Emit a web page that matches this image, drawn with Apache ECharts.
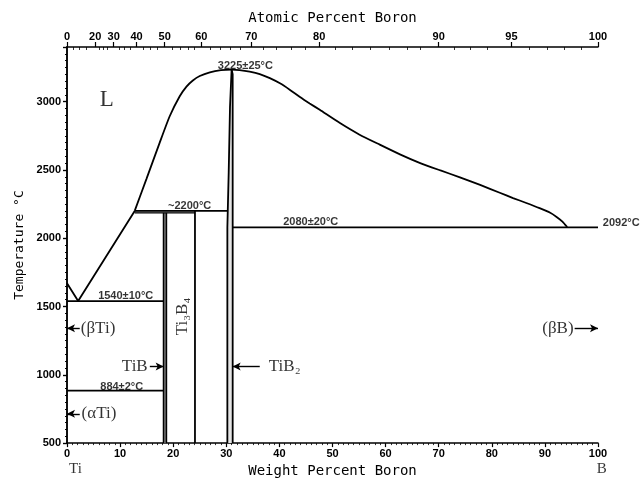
<!DOCTYPE html>
<html><head><meta charset="utf-8">
<script src="https://cdn.jsdelivr.net/npm/echarts@6/dist/echarts.min.js"></script>
<style>html,body{margin:0;padding:0;background:#fff}#c{width:641px;height:483px}</style>
</head><body><div id="c"></div>
<script>
// ---- data (weight % B, temperature °C) ----
const liquidusTiSide = [[0,1670],[2.1,1540],[12.75,2200]];
const liquidusMain = [[12.75,2200],[14.95,2433],[17.46,2700],[19.34,2893],[21.2,3038],[22.5,3110],[23.7,3155],[25.0,3188],[26.9,3215],[29.0,3230],[31.0,3234],[32.5,3231],[34.4,3220],[36.3,3202],[38.2,3172],[40.1,3134],[42.0,3086],[43.8,3036],[45.7,2987],[47.6,2940],[51.4,2843],[55.1,2758],[58.9,2685],[62.7,2614],[66.4,2552],[70.2,2498],[74.0,2446],[77.8,2390],[81.5,2333],[84.0,2294],[86.5,2258],[89.0,2220],[91.0,2186],[92.2,2156],[93.3,2122],[94.2,2082]];
const line1540 = [[0,1540],[18.2,1540]];
const line884 = [[0,884],[18.2,884]];
const line2200 = [[12.75,2200],[30.2,2200]];
const line2185 = [[12.75,2186],[24.1,2186]];
const line2080 = [[31.2,2080],[100,2080]];
const tibLeft = [[18.2,500],[18.2,2186]];
const tibRight = [[18.7,500],[18.7,2186]];
const ti3b4 = [[24.1,500],[24.1,2200]];
const tib2Left = [[30.2,500],[30.2,2080],[30.45,2480],[30.7,2964],[31.0,3234]];
const tib2Right = [[31.2,500],[31.2,3200],[31.0,3234]];
const weightTicks = [0,10,20,30,40,50,60,70,80,90,100];
const tempTicks = [500,1000,1500,2000,2500,3000];
// top axis: atomic-percent labels and where they sit on the weight-percent scale
const atomicLabels = ['0','20','30','40','50','60','70','80','90','95','100'];
const atomicAtWeight = [0,5.3,8.8,13.1,18.4,25.3,34.7,47.5,70.0,83.7,100];
const atomicMinorAtWeight = [1.2,2.4,3.6,6.0,6.8,7.6,9.8,10.8,11.9,14.3,15.6,17.0,19.8,21.3,22.8,24.0,27.0,28.9,30.8,32.7,37.0,39.5,42.2,44.8,50.5,53.7,57.1,60.6,64.0,66.6,73.0,76.0,79.2,87.0,90.4,93.6,96.8];

const tibFill = [[18.2,500],[18.7,500],[18.7,2186],[18.2,2186]];
const bandFill = [[12.75,2186],[24.1,2186],[24.1,2200],[12.75,2200]];
const tib2Fill = tib2Left.concat(tib2Right.slice().reverse());

const degFont = {fontFamily:'Liberation Sans',fontWeight:'bold',fontSize:11,color:'#000'};
const serif = {fontFamily:'Liberation Serif',fontSize:17,color:'#000'};
const annotations = [
  {t:'L',at:[7.5,3012],s:{fontFamily:'Liberation Serif',fontSize:23,color:'#000'},a:'center'},
  {t:'3225±25°C',at:[33.6,3262],s:degFont,a:'center'},
  {t:'~2200°C',at:[23.1,2236],s:degFont,a:'center'},
  {t:'1540±10°C',at:[11.05,1580],s:degFont,a:'center'},
  {t:'884±2°C',at:[10.3,911],s:degFont,a:'center'},
  {t:'2080±20°C',at:[45.9,2120],s:degFont,a:'center'},
  {t:'2092°C',at:[100.9,2111],s:degFont,a:'left'},
  {t:'(βTi)',at:[2.6,1340],s:serif,a:'left'},
  {t:'(αTi)',at:[2.75,714],s:serif,a:'left'},
  {t:'TiB',at:[15.2,1061],s:serif,a:'right'},
  {t:'TiB₂',at:[38.0,1061],s:serif,a:'left'},
  {t:'(βB)',at:[95.4,1340],s:serif,a:'right'},
  {t:'Ti₃B₄',at:[21.8,1427],s:serif,a:'center',r:90},
  {t:'Ti',at:[1.6,307],s:{fontFamily:'Liberation Serif',fontSize:15,color:'#000'},a:'center'},
  {t:'B',at:[100.7,307],s:{fontFamily:'Liberation Serif',fontSize:15,color:'#000'},a:'center'}
];
const arrows = [
  [[2.4,1340],[0,1340]],
  [[2.4,714],[0,714]],
  [[15.6,1061],[18.2,1061]],
  [[36.3,1061],[31.2,1061]],
  [[95.6,1340],[100,1340]]
];

const blk = {color:'#000',width:1.8};
function ln(data,extra){return Object.assign({type:'line',data:data,showSymbol:false,symbol:'none',lineStyle:blk,z:5,silent:true},extra||{});}
function poly(points,fill){return {type:'custom',data:[points[0]],silent:true,z:3,
  renderItem:(p,api)=>({type:'polygon',shape:{points:points.map(q=>api.coord(q))},style:{fill:fill}})};}

const axisLine = {show:true,lineStyle:{color:'#000',width:1.5}};
const tickLbl = {color:'#000',fontSize:11,fontWeight:'bold',fontFamily:'Liberation Sans'};

const chart = echarts.init(document.getElementById('c'),null,{renderer:'canvas'});
chart.setOption({
  animation:false,
  backgroundColor:'#fff',
  grid:{left:67,right:43,top:47,bottom:37,containLabel:false},
  xAxis:[
    {type:'value',min:0,max:100,interval:10,position:'bottom',axisLine:axisLine,
     axisTick:{length:4,lineStyle:{color:'#000',width:1.2}},
     minorTick:{show:true,splitNumber:10,length:2,lineStyle:{color:'#000',width:0.8}},
     splitLine:{show:false},
     axisLabel:Object.assign({margin:5,customValues:weightTicks,formatter:v=>String(v)},tickLbl),
     name:'Weight Percent Boron',nameLocation:'middle',nameGap:20,
     nameTextStyle:{fontFamily:'DejaVu Sans Mono',fontSize:14,color:'#000'}},
    {type:'value',min:0,max:100,position:'top',axisLine:axisLine,
     axisTick:{length:5,customValues:atomicAtWeight,lineStyle:{color:'#000',width:1.2}},
     splitLine:{show:false},
     axisLabel:Object.assign({margin:5,customValues:atomicAtWeight,formatter:function(v){
        let best=0;atomicAtWeight.forEach((w,i)=>{if(Math.abs(w-v)<Math.abs(atomicAtWeight[best]-v))best=i;});
        return atomicLabels[best];}},tickLbl),
     name:'Atomic Percent Boron',nameLocation:'middle',nameGap:22,
     nameTextStyle:{fontFamily:'DejaVu Sans Mono',fontSize:14,color:'#000'}},
    {type:'value',min:0,max:100,position:'top',axisLine:{show:false},
     axisTick:{inside:true,length:3,customValues:atomicMinorAtWeight,lineStyle:{color:'#000',width:0.8}},
     splitLine:{show:false},axisLabel:{show:false}}
  ],
  yAxis:[
    {type:'value',min:500,max:3400,interval:500,position:'left',axisLine:axisLine,
     axisTick:{length:4,lineStyle:{color:'#000',width:1.2}},
     minorTick:{show:true,splitNumber:10,length:2,lineStyle:{color:'#000',width:0.8}},
     splitLine:{show:false},
     axisLabel:Object.assign({margin:6,customValues:tempTicks,formatter:v=>String(v)},tickLbl),
     name:'Temperature °C',nameLocation:'middle',nameGap:40,nameRotate:90,
     nameTextStyle:{fontFamily:'DejaVu Sans Mono',fontSize:13,color:'#000'}},
    {type:'value',min:500,max:3400,interval:500,position:'right',axisLine:axisLine,
     axisTick:{inside:true,length:4,lineStyle:{color:'#000',width:1.2}},
     minorTick:{show:true,splitNumber:10,length:2,lineStyle:{color:'#000',width:0.8}},
     splitLine:{show:false},axisLabel:{show:false}}
  ],
  series:[
    poly(tibFill,'#cccccc'),
    poly(bandFill,'#b8b8b8'),
    poly(tib2Fill,'#e4e4e4'),
    ln(liquidusTiSide),
    ln(liquidusMain,{smooth:0.2}),
    ln(line1540),ln(line884),ln(line2200),ln(line2185,{lineStyle:{color:'#000',width:1.2}}),
    ln(tibLeft),ln(tibRight),ln(ti3b4),ln(tib2Left),ln(tib2Right),
    ln(line2080,{markLine:{silent:true,symbol:['none','arrow'],symbolSize:[6,8],
      label:{show:false},lineStyle:{color:'#000',width:1.4,type:'solid'},
      data:arrows.map(a=>[{coord:a[0]},{coord:a[1]}])}}),
    {type:'scatter',symbolSize:0,clip:false,silent:true,z:10,
     data:annotations.map(a=>({value:a.at,label:{show:true,position:'inside',formatter:a.t,
       align:a.a,verticalAlign:'middle',rotate:a.r||0,
       fontFamily:a.s.fontFamily,fontSize:a.s.fontSize,fontWeight:a.s.fontWeight||'normal',color:a.s.color}}))}
  ]
});
</script></body></html>
